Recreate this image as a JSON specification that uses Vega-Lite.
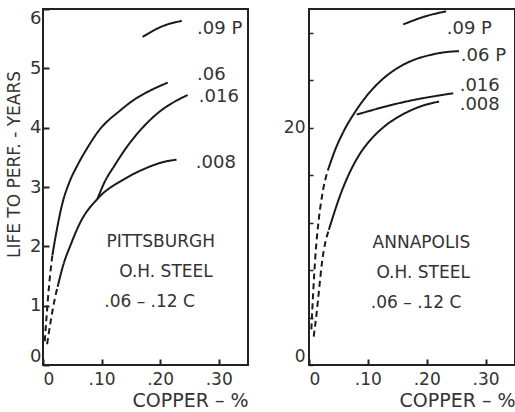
{
  "$schema": "https://vega.github.io/schema/vega-lite/v6.json",
  "background": "white",
  "padding": {"left": 4, "top": 6, "right": 0, "bottom": 4},
  "spacing": 33,
  "config": {
    "font": "DejaVu Sans",
    "view": {"stroke": "#222", "strokeWidth": 2},
    "axis": {
      "labelFont": "DejaVu Sans", "titleFont": "DejaVu Sans",
      "labelColor": "#333", "titleColor": "#333", "titleFontWeight": "normal"
    },
    "text": {"font": "DejaVu Sans", "color": "#333"}
  },
  "datasets": {
    "pitt": [
      {"seg": "p09", "style": "solid", "cu": 0.170, "life": 5.53},
      {"seg": "p09", "style": "solid", "cu": 0.204, "life": 5.71},
      {"seg": "p09", "style": "solid", "cu": 0.237, "life": 5.80},
      {"seg": "p06d", "style": "dashed", "cu": 0.003, "life": 0.40},
      {"seg": "p06d", "style": "dashed", "cu": 0.006, "life": 0.80},
      {"seg": "p06d", "style": "dashed", "cu": 0.010, "life": 1.30},
      {"seg": "p06d", "style": "dashed", "cu": 0.016, "life": 1.85},
      {"seg": "p06s", "style": "solid", "cu": 0.016, "life": 1.85},
      {"seg": "p06s", "style": "solid", "cu": 0.024, "life": 2.30},
      {"seg": "p06s", "style": "solid", "cu": 0.033, "life": 2.72},
      {"seg": "p06s", "style": "solid", "cu": 0.045, "life": 3.08},
      {"seg": "p06s", "style": "solid", "cu": 0.059, "life": 3.37},
      {"seg": "p06s", "style": "solid", "cu": 0.077, "life": 3.68},
      {"seg": "p06s", "style": "solid", "cu": 0.093, "life": 3.92},
      {"seg": "p06s", "style": "solid", "cu": 0.133, "life": 4.30},
      {"seg": "p06s", "style": "solid", "cu": 0.160, "life": 4.50},
      {"seg": "p06s", "style": "solid", "cu": 0.182, "life": 4.62},
      {"seg": "p06s", "style": "solid", "cu": 0.213, "life": 4.76},
      {"seg": "p016", "style": "solid", "cu": 0.093, "life": 2.80},
      {"seg": "p016", "style": "solid", "cu": 0.105, "life": 3.08},
      {"seg": "p016", "style": "solid", "cu": 0.122, "life": 3.36},
      {"seg": "p016", "style": "solid", "cu": 0.145, "life": 3.70},
      {"seg": "p016", "style": "solid", "cu": 0.170, "life": 4.00},
      {"seg": "p016", "style": "solid", "cu": 0.199, "life": 4.27},
      {"seg": "p016", "style": "solid", "cu": 0.225, "life": 4.44},
      {"seg": "p016", "style": "solid", "cu": 0.247, "life": 4.55},
      {"seg": "p008d", "style": "dashed", "cu": 0.007, "life": 0.35},
      {"seg": "p008d", "style": "dashed", "cu": 0.013, "life": 0.73},
      {"seg": "p008d", "style": "dashed", "cu": 0.020, "life": 1.11},
      {"seg": "p008d", "style": "dashed", "cu": 0.025, "life": 1.32},
      {"seg": "p008s", "style": "solid", "cu": 0.025, "life": 1.32},
      {"seg": "p008s", "style": "solid", "cu": 0.035, "life": 1.70},
      {"seg": "p008s", "style": "solid", "cu": 0.047, "life": 2.02},
      {"seg": "p008s", "style": "solid", "cu": 0.064, "life": 2.41},
      {"seg": "p008s", "style": "solid", "cu": 0.093, "life": 2.80},
      {"seg": "p008s", "style": "solid", "cu": 0.140, "life": 3.14},
      {"seg": "p008s", "style": "solid", "cu": 0.179, "life": 3.33},
      {"seg": "p008s", "style": "solid", "cu": 0.205, "life": 3.42},
      {"seg": "p008s", "style": "solid", "cu": 0.228, "life": 3.46}
    ],
    "anna": [
      {"seg": "a09", "style": "solid", "cu": 0.160, "life": 28.7},
      {"seg": "a09", "style": "solid", "cu": 0.199, "life": 29.4},
      {"seg": "a09", "style": "solid", "cu": 0.233, "life": 29.8},
      {"seg": "a06d", "style": "dashed", "cu": 0.004, "life": 3.0},
      {"seg": "a06d", "style": "dashed", "cu": 0.007, "life": 6.0},
      {"seg": "a06d", "style": "dashed", "cu": 0.011, "life": 9.3},
      {"seg": "a06d", "style": "dashed", "cu": 0.016, "life": 12.0},
      {"seg": "a06d", "style": "dashed", "cu": 0.023, "life": 14.5},
      {"seg": "a06d", "style": "dashed", "cu": 0.032, "life": 16.4},
      {"seg": "a06s", "style": "solid", "cu": 0.032, "life": 16.4},
      {"seg": "a06s", "style": "solid", "cu": 0.045, "life": 18.2},
      {"seg": "a06s", "style": "solid", "cu": 0.060, "life": 19.8},
      {"seg": "a06s", "style": "solid", "cu": 0.078, "life": 21.3},
      {"seg": "a06s", "style": "solid", "cu": 0.100, "life": 22.8},
      {"seg": "a06s", "style": "solid", "cu": 0.123, "life": 24.0},
      {"seg": "a06s", "style": "solid", "cu": 0.148, "life": 24.95},
      {"seg": "a06s", "style": "solid", "cu": 0.175, "life": 25.65},
      {"seg": "a06s", "style": "solid", "cu": 0.204, "life": 26.1},
      {"seg": "a06s", "style": "solid", "cu": 0.230, "life": 26.35},
      {"seg": "a06s", "style": "solid", "cu": 0.255, "life": 26.45},
      {"seg": "a016", "style": "solid", "cu": 0.081, "life": 21.1},
      {"seg": "a016", "style": "solid", "cu": 0.120, "life": 21.65},
      {"seg": "a016", "style": "solid", "cu": 0.165, "life": 22.2},
      {"seg": "a016", "style": "solid", "cu": 0.245, "life": 22.9},
      {"seg": "a008d", "style": "dashed", "cu": 0.008, "life": 2.4},
      {"seg": "a008d", "style": "dashed", "cu": 0.013, "life": 4.4},
      {"seg": "a008d", "style": "dashed", "cu": 0.017, "life": 6.3},
      {"seg": "a008d", "style": "dashed", "cu": 0.022, "life": 8.6},
      {"seg": "a008d", "style": "dashed", "cu": 0.0337, "life": 11.4},
      {"seg": "a008s", "style": "solid", "cu": 0.0337, "life": 11.4},
      {"seg": "a008s", "style": "solid", "cu": 0.056, "life": 14.7},
      {"seg": "a008s", "style": "solid", "cu": 0.084, "life": 17.6},
      {"seg": "a008s", "style": "solid", "cu": 0.105, "life": 19.0},
      {"seg": "a008s", "style": "solid", "cu": 0.128, "life": 20.1},
      {"seg": "a008s", "style": "solid", "cu": 0.155, "life": 21.0},
      {"seg": "a008s", "style": "solid", "cu": 0.190, "life": 21.8},
      {"seg": "a008s", "style": "solid", "cu": 0.221, "life": 22.2}
    ],
    "pittLab": [
      {"label": ".09 P", "cu": 0.263, "life": 5.67},
      {"label": ".06", "cu": 0.263, "life": 4.89},
      {"label": ".016", "cu": 0.266, "life": 4.52},
      {"label": ".008", "cu": 0.261, "life": 3.41}
    ],
    "annaLab": [
      {"label": ".09 P", "cu": 0.234, "life": 28.3},
      {"label": ".06 P", "cu": 0.258, "life": 26.0},
      {"label": ".016", "cu": 0.256, "life": 23.5},
      {"label": ".008", "cu": 0.256, "life": 21.9}
    ],
    "pittNote": [
      {"label": "PITTSBURGH", "cu": 0.201, "life": 2.07},
      {"label": "O.H. STEEL", "cu": 0.21, "life": 1.57},
      {"label": ".06 – .12 C", "cu": 0.182, "life": 1.06}
    ],
    "annaNote": [
      {"label": "ANNAPOLIS", "cu": 0.191, "life": 10.3},
      {"label": "O.H. STEEL", "cu": 0.194, "life": 7.75},
      {"label": ".06 – .12 C", "cu": 0.182, "life": 5.2}
    ]
  },
  "hconcat": [
    {
      "width": 205,
      "height": 356,
      "layer": [
        {
          "data": {"name": "pitt"},
          "mark": {"type": "line", "interpolate": "monotone", "strokeWidth": 2, "color": "#1a1a1a"},
          "encoding": {
            "x": {"field": "cu", "type": "quantitative",
              "scale": {"domain": [0, 0.35], "nice": false, "zero": false},
              "axis": {"orient": "bottom", "offset": -6, "values": [0, 0.05, 0.1, 0.15, 0.2, 0.25, 0.3, 0.35],
                "labelExpr": "round(datum.value*100) % 10 === 0 ? (datum.value === 0 ? '0' : replace(format(datum.value, '.2f'), '0.', '.')) : ''",
                "domain": false, "grid": false, "labelOverlap": false, "zindex": 1,
                "ticks": true, "tickColor": "#222", "tickWidth": 2, "tickSize": 6, "labelPadding": 6, "labelFontSize": 17,
                "title": "COPPER – %", "titleFontSize": 19, "titleAnchor": "end", "titlePadding": 4}},
            "y": {"field": "life", "type": "quantitative",
              "scale": {"domain": [0, 6], "nice": false},
              "axis": {"orient": "left", "offset": -6, "values": [0, 0.5, 1, 1.5, 2, 2.5, 3, 3.5, 4, 4.5, 5, 5.5, 6],
                "labelExpr": "datum.value % 1 === 0 ? format(datum.value, 'd') : ''",
                "domain": false, "grid": false, "labelOverlap": false, "zindex": 1,
                "ticks": true, "tickColor": "#222", "tickWidth": 2, "tickSize": 6, "labelPadding": 2, "labelFontSize": 18, "labelFlush": true,
                "title": "LIFE TO PERF. - YEARS", "titleFontSize": 17, "titleY": 155, "titlePadding": 6}},
            "detail": {"field": "seg"},
            "strokeDash": {"field": "style", "type": "nominal",
              "scale": {"domain": ["solid", "dashed"], "range": [[1, 0], [6, 4]]}, "legend": null}
          }
        },
        {
          "data": {"name": "pittLab"},
          "mark": {"type": "text", "align": "left", "baseline": "middle", "fontSize": 18},
          "encoding": {
            "x": {"field": "cu", "type": "quantitative"},
            "y": {"field": "life", "type": "quantitative"},
            "text": {"field": "label"}
          }
        },
        {
          "data": {"name": "pittNote"},
          "mark": {"type": "text", "align": "center", "baseline": "middle", "fontSize": 17},
          "encoding": {
            "x": {"field": "cu", "type": "quantitative"},
            "y": {"field": "life", "type": "quantitative"},
            "text": {"field": "label"}
          }
        }
      ]
    },
    {
      "width": 206,
      "height": 356,
      "layer": [
        {
          "data": {"name": "anna"},
          "mark": {"type": "line", "interpolate": "monotone", "strokeWidth": 2, "color": "#1a1a1a"},
          "encoding": {
            "x": {"field": "cu", "type": "quantitative",
              "scale": {"domain": [0, 0.35], "nice": false, "zero": false},
              "axis": {"orient": "bottom", "offset": -6, "values": [0, 0.05, 0.1, 0.15, 0.2, 0.25, 0.3, 0.35],
                "labelExpr": "round(datum.value*100) % 10 === 0 ? (datum.value === 0 ? '0' : replace(format(datum.value, '.2f'), '0.', '.')) : ''",
                "domain": false, "grid": false, "labelOverlap": false, "zindex": 1,
                "ticks": true, "tickColor": "#222", "tickWidth": 2, "tickSize": 6, "labelPadding": 6, "labelFontSize": 17,
                "title": "COPPER – %", "titleFontSize": 19, "titleAnchor": "end", "titlePadding": 4}},
            "y": {"field": "life", "type": "quantitative",
              "scale": {"domain": [0, 30], "nice": false},
              "axis": {"orient": "left", "offset": -4, "values": [0, 1, 2, 3, 4, 5, 6, 7, 8, 9, 10, 11, 12, 13, 14, 15, 16, 17, 18, 19, 20, 21, 22, 23, 24, 25, 26, 27, 28, 29, 30],
                "labelExpr": "datum.value % 5 === 0 ? datum.label : ''",
                "domain": false, "grid": false, "labelOverlap": false, "zindex": 1,
                "ticks": true, "tickColor": "#222", "tickWidth": 1.5, "tickSize": 4, "labelPadding": 4, "labelFontSize": 17, "labelFlush": true, "title": null}},
            "detail": {"field": "seg"},
            "strokeDash": {"field": "style", "type": "nominal",
              "scale": {"domain": ["solid", "dashed"], "range": [[1, 0], [6, 4]]}, "legend": null}
          }
        },
        {
          "data": {"name": "annaLab"},
          "mark": {"type": "text", "align": "left", "baseline": "middle", "fontSize": 18},
          "encoding": {
            "x": {"field": "cu", "type": "quantitative"},
            "y": {"field": "life", "type": "quantitative"},
            "text": {"field": "label"}
          }
        },
        {
          "data": {"name": "annaNote"},
          "mark": {"type": "text", "align": "center", "baseline": "middle", "fontSize": 17},
          "encoding": {
            "x": {"field": "cu", "type": "quantitative"},
            "y": {"field": "life", "type": "quantitative"},
            "text": {"field": "label"}
          }
        }
      ]
    }
  ]
}
